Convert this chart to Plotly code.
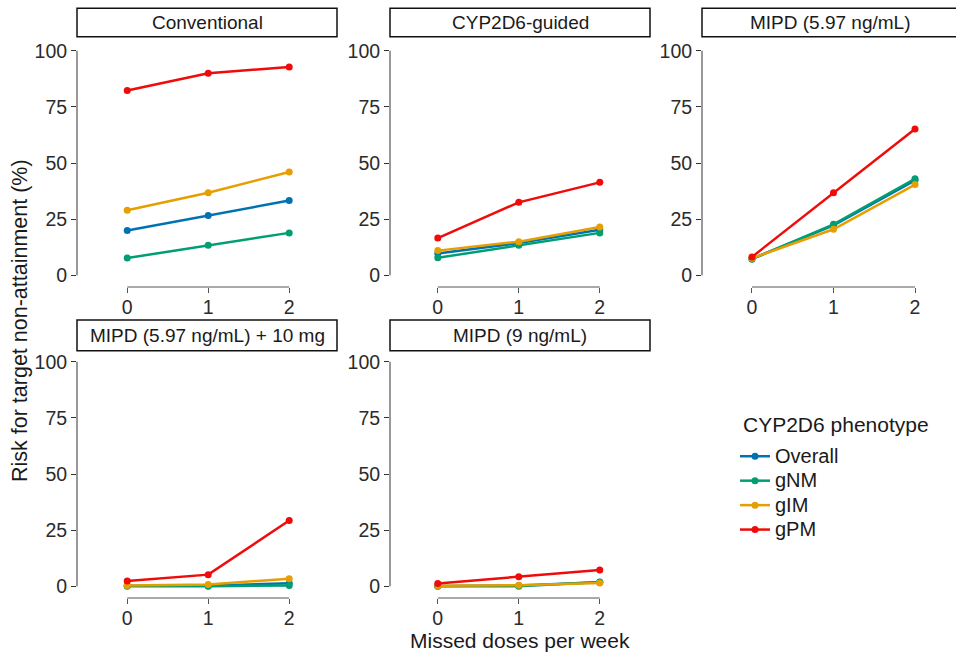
import plotly.graph_objects as go

# ---------------- data ----------------
missed_doses = [0, 1, 2]
x_tick_labels = ["0", "1", "2"]
y_tick_values = [0, 25, 50, 75, 100]
y_tick_labels = ["0", "25", "50", "75", "100"]

panel_titles = ["Conventional", "CYP2D6-guided", "MIPD (5.97 ng/mL)",
                "MIPD (5.97 ng/mL) + 10 mg", "MIPD (9 ng/mL)"]
phenotypes = ["Overall", "gNM", "gIM", "gPM"]

conventional_overall = [20.0, 26.6, 33.3]
conventional_gNM = [7.7, 13.4, 18.9]
conventional_gIM = [29.0, 36.8, 46.0]
conventional_gPM = [82.3, 90.0, 92.8]

guided_overall = [9.7, 14.4, 20.3]
guided_gNM = [7.8, 13.4, 18.9]
guided_gIM = [11.0, 15.0, 21.5]
guided_gPM = [16.6, 32.5, 41.4]

mipd597_overall = [7.4, 22.2, 42.3]
mipd597_gNM = [7.2, 22.7, 43.0]
mipd597_gIM = [7.6, 20.5, 40.4]
mipd597_gPM = [8.2, 36.8, 65.2]

mipd597_10mg_overall = [0.2, 0.3, 1.4]
mipd597_10mg_gNM = [0.0, 0.0, 0.4]
mipd597_10mg_gIM = [0.4, 0.8, 3.4]
mipd597_10mg_gPM = [2.4, 5.2, 29.3]

mipd9_overall = [0.1, 0.4, 1.8]
mipd9_gNM = [0.0, 0.0, 1.9]
mipd9_gIM = [0.2, 0.5, 1.5]
mipd9_gPM = [1.3, 4.3, 7.3]

panel_data = [
    [conventional_overall, conventional_gNM, conventional_gIM, conventional_gPM],
    [guided_overall, guided_gNM, guided_gIM, guided_gPM],
    [mipd597_overall, mipd597_gNM, mipd597_gIM, mipd597_gPM],
    [mipd597_10mg_overall, mipd597_10mg_gNM, mipd597_10mg_gIM, mipd597_10mg_gPM],
    [mipd9_overall, mipd9_gNM, mipd9_gIM, mipd9_gPM],
]

colors = {"Overall": "#0072B2", "gNM": "#009E73", "gIM": "#E69F00", "gPM": "#F00A0A"}

# ---------------- layout geometry (pixels) ----------------
W, H = 956, 652
FONT = "Liberation Sans, Arial, Helvetica, sans-serif"

# columns: (left px, right px, x-range)
cols = [(77, 337, [-0.62, 2.59]),
        (390, 650, [-0.59, 2.62]),
        (702, 956, [-0.613, 2.503])]
# rows: (top px, bottom px)
rows = [(40, 287), (351, 598)]
strip_px = [(8.3, 36.7), (320.0, 350.7)]
y_range = [-5.2, 104.8]

panel_pos = [(0, 0), (0, 1), (0, 2), (1, 0), (1, 1)]

fig = go.Figure()
layout = dict(
    width=W, height=H,
    margin=dict(l=0, r=0, t=0, b=0),
    paper_bgcolor="white", plot_bgcolor="white",
    font=dict(family=FONT, color="#333333"),
    shapes=[], annotations=[],
    legend=dict(
        x=735 / W, y=1 - 439 / H, xanchor="left", yanchor="top",
        font=dict(size=16.5, color="#1a1a1a"),
        itemwidth=30, tracegroupgap=0, bgcolor="rgba(0,0,0,0)",
    ),
)

for i, (title, series) in enumerate(zip(panel_titles, panel_data)):
    r, c = panel_pos[i]
    left, right, xr = cols[c]
    top, bottom = rows[r]
    n = "" if i == 0 else str(i + 1)
    xa, ya = "x" + n, "y" + n
    layout["xaxis" + n] = dict(
        domain=[left / W, right / W], range=xr, anchor=ya,
        tickmode="array", tickvals=missed_doses, ticktext=x_tick_labels,
        ticks="outside", ticklen=5, tickwidth=1, tickcolor="#555555",
        ticklabelstandoff=-2,
        showline=False, showgrid=False, zeroline=False,
        tickfont=dict(size=19.5, color="#2b2b2b"), fixedrange=True,
    )
    layout["yaxis" + n] = dict(
        domain=[1 - bottom / H, 1 - top / H], range=y_range, anchor=xa,
        tickmode="array", tickvals=y_tick_values, ticktext=y_tick_labels,
        ticks="outside", ticklen=5, tickwidth=1, tickcolor="#333333",
        showline=False, showgrid=False, zeroline=False,
        tickfont=dict(size=19.5, color="#2b2b2b"), fixedrange=True,
    )
    # capped axis lines
    layout["shapes"].append(dict(type="line", xref=xa + " domain", yref=ya,
                                 x0=0, x1=0, y0=0, y1=100,
                                 line=dict(color="#333333", width=1)))
    layout["shapes"].append(dict(type="line", xref=xa, yref=ya + " domain",
                                 x0=0, x1=2, y0=0, y1=0,
                                 line=dict(color="#555555", width=1)))
    # strip
    s_top, s_bot = strip_px[r]
    h_dom = bottom - top
    y0 = 1 + (top - s_bot) / h_dom
    y1 = 1 + (top - s_top) / h_dom
    x1 = 1.0 if c < 2 else 1.05
    layout["shapes"].append(dict(type="rect", xref=xa + " domain", yref=ya + " domain",
                                 x0=0, x1=x1, y0=y0, y1=y1,
                                 line=dict(color="#111111", width=1.5),
                                 fillcolor="white"))
    layout["annotations"].append(dict(
        text=title, xref="paper", yref="paper",
        x=(left + (right if c < 2 else 958)) / 2 / W,
        y=1 - (s_top + s_bot) / 2 / H,
        xanchor="center", yanchor="middle", showarrow=False,
        font=dict(size=19, color="#1a1a1a")))

    for ph, vals in zip(phenotypes, series):
        fig.add_trace(go.Scatter(
            x=missed_doses, y=vals, mode="lines+markers",
            name="<span style='font-size:20px'>" + ph + "</span>",
            legendgroup=ph, showlegend=(i == 0),
            line=dict(color=colors[ph], width=2.5),
            marker=dict(color=colors[ph], size=7),
            xaxis=xa, yaxis=ya, hoverinfo="skip",
        ))

# legend title
layout["annotations"].append(dict(
    text="CYP2D6 phenotype", xref="paper", yref="paper",
    x=741 / W, y=1 - 424 / H, showarrow=False,
    xanchor="left", yanchor="middle", font=dict(size=21, color="#1a1a1a")))

# axis titles
layout["annotations"].append(dict(
    text="Risk for target non-attainment (%)", xref="paper", yref="paper",
    x=20 / W, y=1 - 321 / H, textangle=-90, showarrow=False,
    xanchor="center", yanchor="middle", font=dict(size=21.5, color="#1a1a1a")))
layout["annotations"].append(dict(
    text="Missed doses per week", xref="paper", yref="paper",
    x=520 / W, y=1 - 640 / H, showarrow=False, borderpad=0,
    xanchor="center", yanchor="middle", font=dict(size=21, color="#1a1a1a")))

fig.update_layout(**layout)
fig.write_html(
    "out.html",
    config={"displayModeBar": False, "staticPlot": True},
    post_script="document.body.style.margin='0';document.body.style.overflow='hidden';",
)
